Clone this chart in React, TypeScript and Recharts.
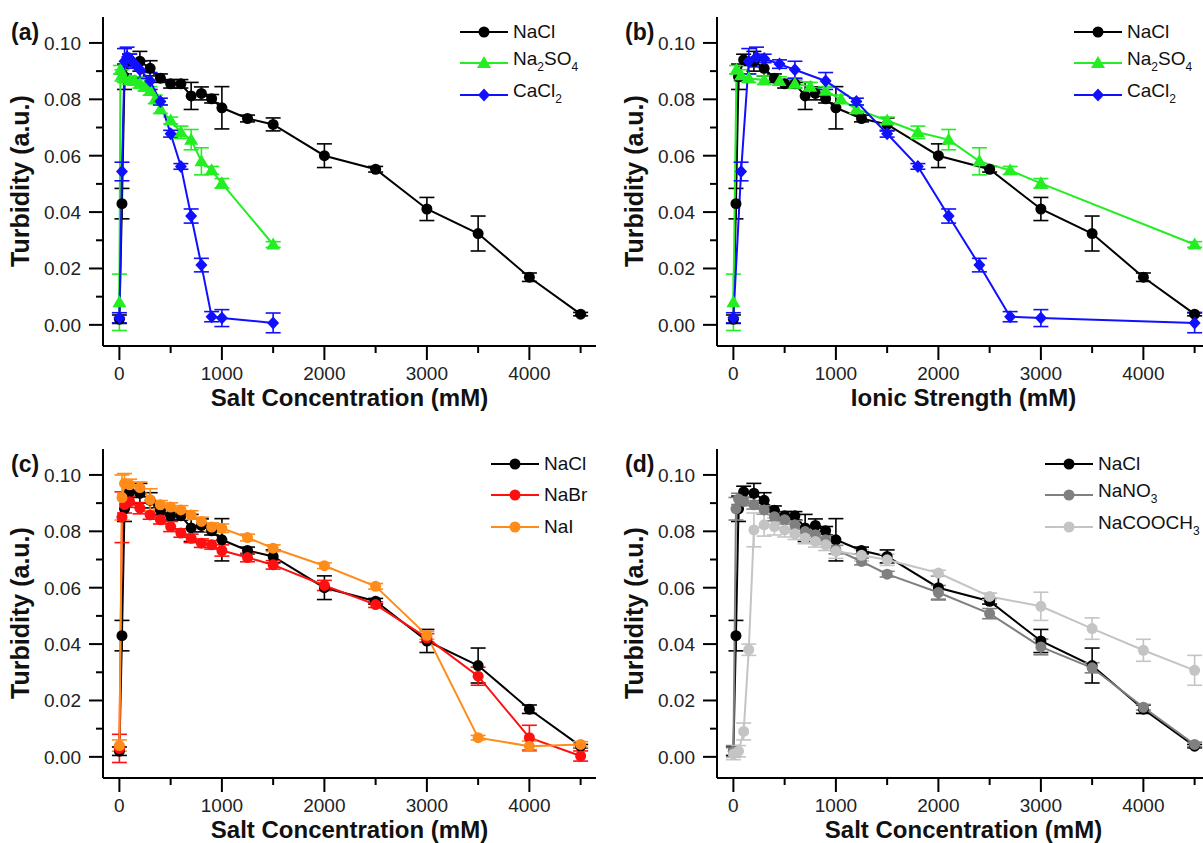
import { LineChart, Line, XAxis, YAxis, ErrorBar, Legend } from "recharts"

const FONT = '"Liberation Sans", Arial, Helvetica, sans-serif'
const GREEN = "#22ee22"
const BLUE = "#1010ff"
const RED = "#ff1010"
const ORANGE = "#ff8c1a"
const GRAY = "#808080"
const LIGHT = "#c4c4c4"

// NaCl (used in all four panels; ionic strength = concentration)
const naclConc = [0, 25, 50, 100, 200, 300, 400, 500, 600, 700, 800, 900, 1000, 1250, 1500, 2000, 2500, 3000, 3500, 4000, 4500]
const naclTurb = [0.002, 0.043, 0.088, 0.094, 0.0935, 0.091, 0.0875, 0.0855, 0.0855, 0.0812, 0.0821, 0.0802, 0.077, 0.0732, 0.0711, 0.06, 0.0552, 0.0411, 0.0324, 0.0169, 0.0038]
const naclErr = [0.0015, 0.0054, 0.0045, 0.002, 0.0035, 0.0027, 0.0015, 0.0015, 0.0015, 0.0048, 0.0023, 0.0015, 0.0075, 0.0012, 0.0023, 0.0042, 0.001, 0.0041, 0.0062, 0.0015, 0.0006]

// Na2SO4
const na2so4Conc = [0, 10, 25, 50, 100, 150, 200, 250, 300, 350, 400, 500, 600, 700, 800, 900, 1000, 1500]
const na2so4Ionic = [0, 30, 75, 150, 300, 450, 600, 750, 900, 1050, 1200, 1500, 1800, 2100, 2400, 2700, 3000, 4500]
const na2so4Turb = [0.008, 0.0905, 0.0885, 0.0875, 0.0868, 0.0865, 0.0855, 0.0845, 0.083, 0.08, 0.0765, 0.0725, 0.0683, 0.0657, 0.058, 0.0548, 0.0502, 0.0285]
const na2so4Err = [0.01, 0.0015, 0.002, 0.0015, 0.0015, 0.0015, 0.0015, 0.0015, 0.0015, 0.0015, 0.0015, 0.0012, 0.0022, 0.0036, 0.0048, 0.0014, 0.0017, 0.001]

// CaCl2
const cacl2Conc = [0, 25, 50, 75, 100, 150, 200, 300, 400, 500, 600, 700, 800, 900, 1000, 1500]
const cacl2Ionic = [0, 75, 150, 225, 300, 450, 600, 900, 1200, 1500, 1800, 2100, 2400, 2700, 3000, 4500]
const cacl2Turb = [0.0025, 0.0544, 0.0935, 0.095, 0.0945, 0.0925, 0.0905, 0.0865, 0.0792, 0.0678, 0.0562, 0.0386, 0.0212, 0.0029, 0.0024, 0.0007]
const cacl2Err = [0.0018, 0.0033, 0.0045, 0.0035, 0.0015, 0.0015, 0.003, 0.003, 0.0012, 0.0012, 0.001, 0.0025, 0.0024, 0.0018, 0.003, 0.0035]

// NaBr and NaI
const halideConc = [0, 25, 50, 100, 200, 300, 400, 500, 600, 700, 800, 900, 1000, 1250, 1500, 2000, 2500, 3000, 3500, 4000, 4500]
const nabrTurb = [0.003, 0.085, 0.0895, 0.0905, 0.0882, 0.0858, 0.0841, 0.0817, 0.0794, 0.0775, 0.0758, 0.0752, 0.0732, 0.0707, 0.0681, 0.0608, 0.054, 0.0422, 0.0286, 0.0068, 0.0003]
const nabrErr = [0.005, 0.009, 0.003, 0.002, 0.002, 0.0015, 0.0015, 0.0018, 0.0015, 0.0015, 0.0015, 0.0015, 0.002, 0.0015, 0.0015, 0.0018, 0.001, 0.0015, 0.0032, 0.0044, 0.0018]
const naiTurb = [0.004, 0.092, 0.097, 0.0965, 0.0955, 0.0912, 0.0894, 0.0886, 0.0876, 0.0858, 0.0835, 0.0815, 0.0811, 0.0778, 0.074, 0.0678, 0.0605, 0.0431, 0.0068, 0.0038, 0.0044]
const naiErr = [0.002, 0.008, 0.0035, 0.002, 0.002, 0.0039, 0.0015, 0.0015, 0.0015, 0.0015, 0.0015, 0.0015, 0.0015, 0.0012, 0.0012, 0.001, 0.001, 0.0014, 0.0008, 0.0018, 0.001]

// NaNO3 and NaCOOCH3
const nano3Conc = [0, 25, 50, 100, 200, 300, 400, 500, 600, 700, 800, 900, 1000, 1250, 1500, 2000, 2500, 3000, 3500, 4000, 4500]
const nano3Turb = [0.002, 0.088, 0.0915, 0.0906, 0.0894, 0.0876, 0.0852, 0.0841, 0.0823, 0.0799, 0.0788, 0.077, 0.0735, 0.0693, 0.0648, 0.0583, 0.0508, 0.039, 0.0316, 0.0176, 0.0044]
const nano3Err = [0.002, 0.004, 0.002, 0.0015, 0.0015, 0.0015, 0.0015, 0.0015, 0.0015, 0.0015, 0.0015, 0.0015, 0.0015, 0.0012, 0.001, 0.0025, 0.0018, 0.0028, 0.0018, 0.001, 0.0008]
const acetateConc = [0, 50, 100, 150, 200, 300, 400, 500, 600, 700, 800, 900, 1000, 1250, 1500, 2000, 2500, 3000, 3500, 4000, 4500]
const acetateTurb = [0.001, 0.002, 0.009, 0.038, 0.0805, 0.0823, 0.0817, 0.0805, 0.0791, 0.0776, 0.0764, 0.0752, 0.0729, 0.0715, 0.0699, 0.0652, 0.0569, 0.0534, 0.0455, 0.0378, 0.0307]
const acetateErr = [0.002, 0.002, 0.003, 0.002, 0.006, 0.004, 0.003, 0.0025, 0.002, 0.002, 0.002, 0.002, 0.0025, 0.002, 0.002, 0.001, 0.0012, 0.005, 0.0038, 0.0039, 0.0053]

const xTicks = [0, 500, 1000, 1500, 2000, 2500, 3000, 3500, 4000, 4500]
const yTicks = [0, 0.01, 0.02, 0.03, 0.04, 0.05, 0.06, 0.07, 0.08, 0.09, 0.1]
const xDomain = [-160, 4650]
const yDomain = [-0.0075, 0.1092]

const rows = (xs: number[], ys: number[], es: number[]) =>
  xs.map((x, i) => ({ x, y: ys[i], e: es[i] }))

const sub = (t: string) => (
  <span style={{ fontSize: 12, verticalAlign: "-6px" }}>{t}</span>
)

function Marker({ cx, cy, shape, color }: any) {
  if (cx == null || cy == null) return null
  if (shape === "triangle")
    return <polygon points={`${cx},${cy - 7} ${cx + 7},${cy + 5} ${cx - 7},${cy + 5}`} fill={color} />
  if (shape === "diamond")
    return <polygon points={`${cx},${cy - 6.5} ${cx + 6},${cy} ${cx},${cy + 6.5} ${cx - 6},${cy}`} fill={color} />
  return <circle cx={cx} cy={cy} r={5.5} fill={color} />
}

function XTick({ x, y, payload }: any) {
  const v = payload.value
  const major = v % 1000 === 0
  return (
    <g>
      <line x1={x} x2={x} y1={y} y2={y + (major ? 14 : 7)} stroke="#000" strokeWidth={2} />
      {major && (
        <text x={x} y={y + 34} textAnchor="middle" fontSize={19} fill="#222" fontFamily={FONT}>
          {v}
        </text>
      )}
    </g>
  )
}

function YTick({ x, y, payload }: any) {
  const v = payload.value
  const major = Math.round(v * 100) % 2 === 0
  return (
    <g>
      <line x1={x - (major ? 14 : 7)} x2={x} y1={y} y2={y} stroke="#000" strokeWidth={2} />
      {major && (
        <text x={x - 22} y={y + 7} textAnchor="end" fontSize={19} fill="#222" fontFamily={FONT}>
          {v.toFixed(2)}
        </text>
      )}
    </g>
  )
}

function LegendBox({ items }: any) {
  return (
    <div style={{ fontFamily: FONT, fontSize: 19, color: "#111" }}>
      {items.map((it: any) => (
        <div key={it.name} style={{ display: "flex", alignItems: "center", height: 31.5 }}>
          <svg width={48} height={16}>
            <line x1={0} x2={48} y1={8} y2={8} stroke={it.color} strokeWidth={2} />
            <Marker cx={24} cy={8} shape={it.shape} color={it.color} />
          </svg>
          <span style={{ marginLeft: 5, whiteSpace: "nowrap", lineHeight: "20px" }}>{it.label}</span>
        </div>
      ))}
    </div>
  )
}

function Panel({ left, top, letter, xTitle, series, legendLeft }: any) {
  return (
    <div style={{ position: "absolute", left, top }}>
      <LineChart width={620} height={430} margin={{ top: 17, right: 24, bottom: 0, left: 0 }}>
        <XAxis
          dataKey="x"
          type="number"
          domain={xDomain}
          allowDataOverflow
          ticks={xTicks}
          interval={0}
          tick={<XTick />}
          tickSize={0}
          tickMargin={0}
          tickLine={false}
          axisLine={{ stroke: "#000", strokeWidth: 2 }}
          height={84}
          label={{
            content: () => (
              <text x={349.5} y={406} textAnchor="middle" fontSize={24} fontWeight="bold" fill="#111" fontFamily={FONT}>
                {xTitle}
              </text>
            ),
          }}
        />
        <XAxis
          xAxisId="top"
          orientation="top"
          type="number"
          domain={xDomain}
          allowDataOverflow
          tick={false}
          tickLine={false}
          height={0}
          axisLine={{ stroke: "#000", strokeWidth: 2 }}
        />
        <YAxis
          type="number"
          domain={yDomain}
          allowDataOverflow
          ticks={yTicks}
          interval={0}
          tick={<YTick />}
          tickSize={0}
          tickMargin={0}
          tickLine={false}
          axisLine={{ stroke: "#000", strokeWidth: 2 }}
          width={103}
          label={{
            content: () => (
              <g fontFamily={FONT} fontWeight="bold" fill="#111">
                <text x={29} y={181} transform="rotate(-90, 29, 181)" textAnchor="middle" fontSize={25}>
                  Turbidity (a.u.)
                </text>
                <text x={11} y={40} fontSize={23}>
                  {letter}
                </text>
              </g>
            ),
          }}
        />
        <YAxis
          yAxisId="right"
          orientation="right"
          type="number"
          domain={yDomain}
          allowDataOverflow
          tick={false}
          tickLine={false}
          width={0}
          axisLine={{ stroke: "#000", strokeWidth: 2 }}
        />
        <Legend
          layout="vertical"
          align="center"
          verticalAlign="middle"
          wrapperStyle={{ left: legendLeft, top: 16 }}
          content={() => <LegendBox items={series} />}
        />
        {series.map((s: any) => (
          <Line
            key={s.name}
            name={s.name}
            data={s.data}
            dataKey="y"
            stroke={s.color}
            strokeWidth={2}
            isAnimationActive={false}
            activeDot={false}
            dot={(p: any) => <Marker key={p.index} cx={p.cx} cy={p.cy} shape={s.shape} color={s.color} />}
          >
            <ErrorBar dataKey="e" direction="y" width={7.5} stroke={s.color} strokeWidth={1.6} />
          </Line>
        ))}
      </LineChart>
    </div>
  )
}

const naclItem = (xs: number[]) => ({
  name: "NaCl",
  label: "NaCl",
  color: "#000",
  shape: "circle",
  data: rows(xs, naclTurb, naclErr),
})

const seriesA = [
  naclItem(naclConc),
  { name: "Na2SO4", label: <>Na{sub("2")}SO{sub("4")}</>, color: GREEN, shape: "triangle", data: rows(na2so4Conc, na2so4Turb, na2so4Err) },
  { name: "CaCl2", label: <>CaCl{sub("2")}</>, color: BLUE, shape: "diamond", data: rows(cacl2Conc, cacl2Turb, cacl2Err) },
]
const seriesB = [
  naclItem(naclConc),
  { name: "Na2SO4", label: <>Na{sub("2")}SO{sub("4")}</>, color: GREEN, shape: "triangle", data: rows(na2so4Ionic, na2so4Turb, na2so4Err) },
  { name: "CaCl2", label: <>CaCl{sub("2")}</>, color: BLUE, shape: "diamond", data: rows(cacl2Ionic, cacl2Turb, cacl2Err) },
]
const seriesC = [
  naclItem(naclConc),
  { name: "NaBr", label: "NaBr", color: RED, shape: "circle", data: rows(halideConc, nabrTurb, nabrErr) },
  { name: "NaI", label: "NaI", color: ORANGE, shape: "circle", data: rows(halideConc, naiTurb, naiErr) },
]
const seriesD = [
  naclItem(naclConc),
  { name: "NaNO3", label: <>NaNO{sub("3")}</>, color: GRAY, shape: "circle", data: rows(nano3Conc, nano3Turb, nano3Err) },
  { name: "NaCOOCH3", label: <>NaCOOCH{sub("3")}</>, color: LIGHT, shape: "circle", data: rows(acetateConc, acetateTurb, acetateErr) },
]

export default function App() {
  return (
    <div
      style={{
        position: "absolute",
        left: 0,
        top: 0,
        width: 1203,
        height: 843,
        overflow: "hidden",
        background: "#fff",
        fontFamily: FONT,
      }}
    >
      <Panel left={0} top={0} letter="(a)" xTitle="Salt Concentration (mM)" series={seriesA} legendLeft={460} />
      <Panel left={614} top={0} letter="(b)" xTitle="Ionic Strength (mM)" series={seriesB} legendLeft={460} />
      <Panel left={0} top={432} letter="(c)" xTitle="Salt Concentration (mM)" series={seriesC} legendLeft={491} />
      <Panel left={614} top={432} letter="(d)" xTitle="Salt Concentration (mM)" series={seriesD} legendLeft={431} />
    </div>
  )
}
